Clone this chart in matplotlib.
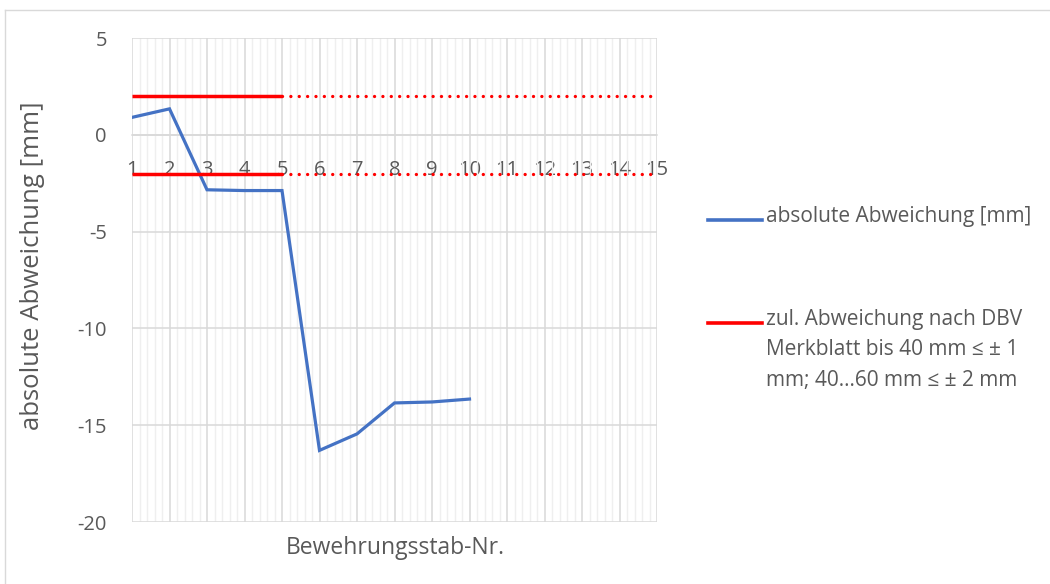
import matplotlib.pyplot as plt
from matplotlib.lines import Line2D
from matplotlib.ticker import MultipleLocator

# measured deviation per bar
stab_nr = [1, 2, 3, 4, 5, 6, 7, 8, 9, 10]
abweichung = [0.9, 1.34, -2.84, -2.88, -2.88, -16.3, -15.45, -13.85, -13.8, -13.65]

# permitted deviation (DBV), solid part and dotted continuation
grenze_x_solid = [1, 5]
grenze_x_dotted = [5, 15]
grenze_oben = 2
grenze_unten = -2

x_ticks = list(range(1, 16))
y_ticks = [-20, -15, -10, -5, 0, 5]

label_ist = "absolute Abweichung [mm]"
label_zul = "zul. Abweichung nach DBV\nMerkblatt bis 40 mm \u2264 \u00b1 1\nmm; 40\u202660 mm \u2264 \u00b1 2 mm"

plt.rcParams['font.family'] = ['Open Sans', 'DejaVu Sans']
plt.rcParams['axes.unicode_minus'] = False
txt_col = '#595959'
blue = '#4472c4'
red = '#ff0000'

fig = plt.figure(figsize=(10.5, 5.84), dpi=100)
ax = fig.add_axes([132/1050, 1 - 522/584, (657-132)/1050, (522-38)/584])

ax.set_xlim(1, 15)
ax.set_ylim(-20, 5)
ax.set_yticks(y_ticks)
ax.set_xticks(x_ticks)
ax.xaxis.set_minor_locator(MultipleLocator(0.2))

ax.grid(True, which='major', color='#d9d9d9', lw=1.1, zorder=0)
ax.grid(True, which='minor', axis='x', color='#efefef', lw=1.0, zorder=0)
ax.set_axisbelow(True)

for s in ['top', 'right', 'left']:
    ax.spines[s].set_visible(False)
ax.spines['bottom'].set_position(('data', 0))
ax.spines['bottom'].set_color('#d9d9d9')
ax.spines['bottom'].set_linewidth(1.1)

ax.tick_params(axis='both', which='both', length=0, labelsize=14.5, colors=txt_col)
ax.tick_params(axis='y', pad=18)
ax.tick_params(axis='x', pad=18)

ax.plot(stab_nr, abweichung, color=blue, lw=2.3, zorder=3, solid_joinstyle='miter')

for g in (grenze_oben, grenze_unten):
    ax.plot(grenze_x_solid, [g, g], color=red, lw=2.5, zorder=4, solid_capstyle='butt')
    ax.plot(grenze_x_dotted, [g, g], color=red, lw=2.4, zorder=4,
            linestyle=(0, (0.01, 2.5)), dash_capstyle='round')

fig.text(33/1050, 1 - 266/584, "absolute Abweichung [mm]", rotation=90,
         ha='center', va='center', fontsize=18.5, color=txt_col)
fig.text(395/1050, 1 - 548/584, "Bewehrungsstab-Nr.", ha='center', va='center',
         fontsize=16.5, color=txt_col)

# legend, handle lined up with the first text line
def legend_entry(y_px, color, text):
    y = 1 - y_px/584
    fig.add_artist(Line2D([708/1050, 762/1050], [y, y], color=color, lw=2.6))
    fig.text(766/1050, y + 14/584, text, ha='left', va='top', fontsize=15,
             color=txt_col, linespacing=1.58)

legend_entry(220, blue, label_ist)
legend_entry(323, red, label_zul)

# chart frame
fig.add_artist(Line2D([5/1050, 5/1050], [0, 1 - 10/584], color='#d9d9d9', lw=1))
fig.add_artist(Line2D([5/1050, 1], [1 - 10/584, 1 - 10/584], color='#d9d9d9', lw=1))

fig.savefig('out.png', dpi=100)
